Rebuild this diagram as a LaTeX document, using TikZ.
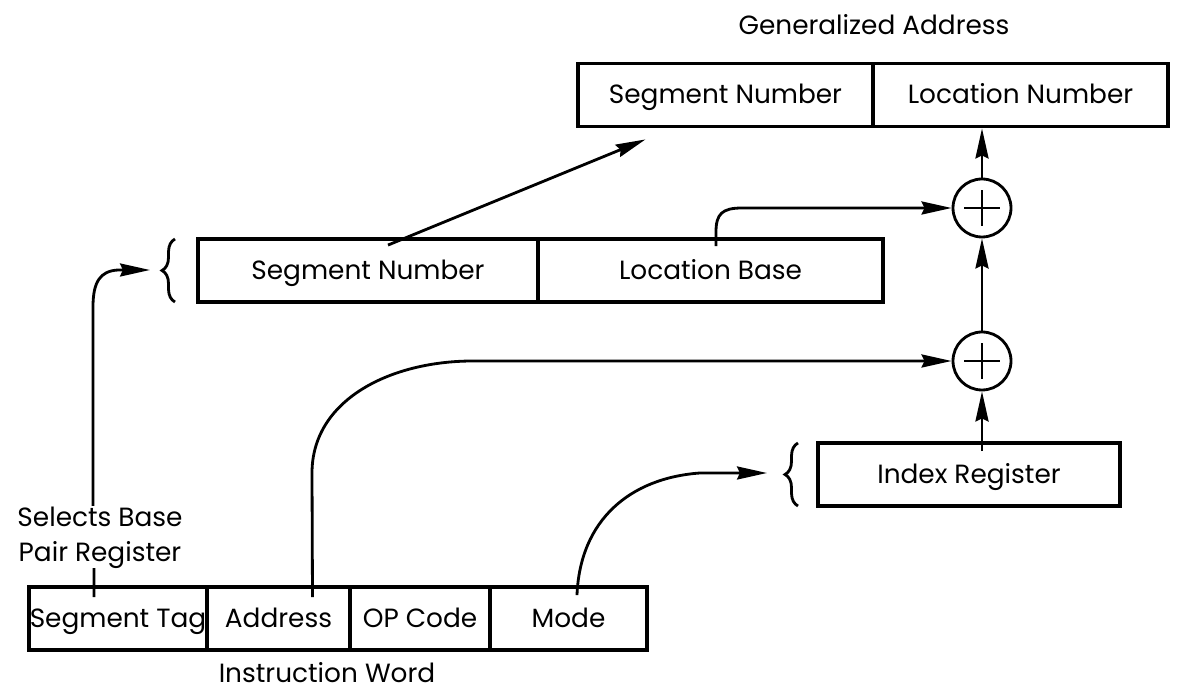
\documentclass[tikz,border=0pt]{standalone}
\usepackage{fontspec}
\setmainfont{Poppins}
\usetikzlibrary{positioning,arrows.meta,calc,decorations.pathreplacing}

\begin{document}
\begin{tikzpicture}[
  x=0.02cm,y=-0.02cm,
  line width=1.6pt,
  every node/.style={font=\fontsize{15}{20}\selectfont},
  cell/.style={draw,line width=2.2pt,inner sep=0pt,
    text height=1.15em,text depth=0.17em,
    minimum height=1.26cm,minimum width=#1},
  adder/.style={draw,circle,minimum size=1.16cm,inner sep=0pt,
    path picture={
      \draw (path picture bounding box.center) ++(-0.36cm,0) -- ++(0.72cm,0);
      \draw (path picture bounding box.center) ++(0,-0.36cm) -- ++(0,0.72cm);
    }},
  arr/.style={-{Stealth[length=0.6cm,width=0.26cm,inset=0.06cm]}},
  bracket/.style={decorate,decoration={brace,amplitude=0.26cm}}
]
\useasboundingbox (0,0) rectangle (1178,692);
% generalized address
\node (gtitle) at (874,25) {Generalized Address};
\node[cell=5.9cm] (gsn) at (725.5,95) {Segment Number};
\node[cell=5.9cm] (gln) at (1020.5,95) {Location Number};
% base pair register
\node[cell=6.8cm] (msn) at (368,270.5) {Segment Number};
\node[cell=6.9cm] (lbase) at (710.5,270.5) {Location Base};
\draw[bracket] (175,302) -- (175,239);
\coordinate (bsel) at (150,270);
% adders
\node[adder] (p1) at (982,208) {};
\node[adder] (p2) at (982,361) {};
% index register
\node[cell=6.04cm] (idx) at (969,474.5) {Index Register};
\draw[bracket] (798,506) -- (798,443);
\coordinate (bidx) at (767,473);
% instruction word
\node[cell=3.56cm] (stag) at (118,618.5) {Segment Tag};
\node[cell=2.86cm] (addr) at (278.5,618.5) {Address};
\node[cell=2.8cm] (opc) at (420,618.5) {OP Code};
\node[cell=3.14cm] (mode) at (568.5,618.5) {Mode};
\node[inner sep=1pt] (iw) at (327,673) {Instruction Word};
\node[align=center] (sel) at (100,538) {Selects Base\\Pair Register};

% connectors
\draw ([xshift=-0.48cm,yshift=-0.24cm]stag.north) -- ($(stag.north)+(-24,-17)$);
\draw[arr] ($(sel.north)+(-7,6)$) -- (93,307)
  .. controls (93,282) and (100,271) .. (118,270) -- (bsel);
\draw[arr] ([xshift=0.4cm,yshift=-0.16cm]msn.north) -- ($(gsn.south)+(-80,11)$);
\draw[arr] ([xshift=0.11cm,yshift=-0.18cm]lbase.north) -- (716,232)
  .. controls (716,214) and (722,208) .. (742,208) -- (p1.west);
\draw[arr] ([xshift=0.68cm,yshift=-0.24cm]addr.north) -- (312,473)
  .. controls (312,400) and (390,361) .. (473,361) -- (p2.west);
\draw[arr] ([xshift=0.17cm,yshift=-0.2cm]mode.north)
  .. controls (580,520) and (630,478) .. (700,473) -- (bidx);
\draw[arr,shorten <=-0.2cm] (p2.south |- idx.north) -- (p2.south);
\draw[arr] (p2.north) -- (p1.south);
\draw[arr] (p1.north) -- (p1.north |- gln.south);
\end{tikzpicture}
\end{document}
